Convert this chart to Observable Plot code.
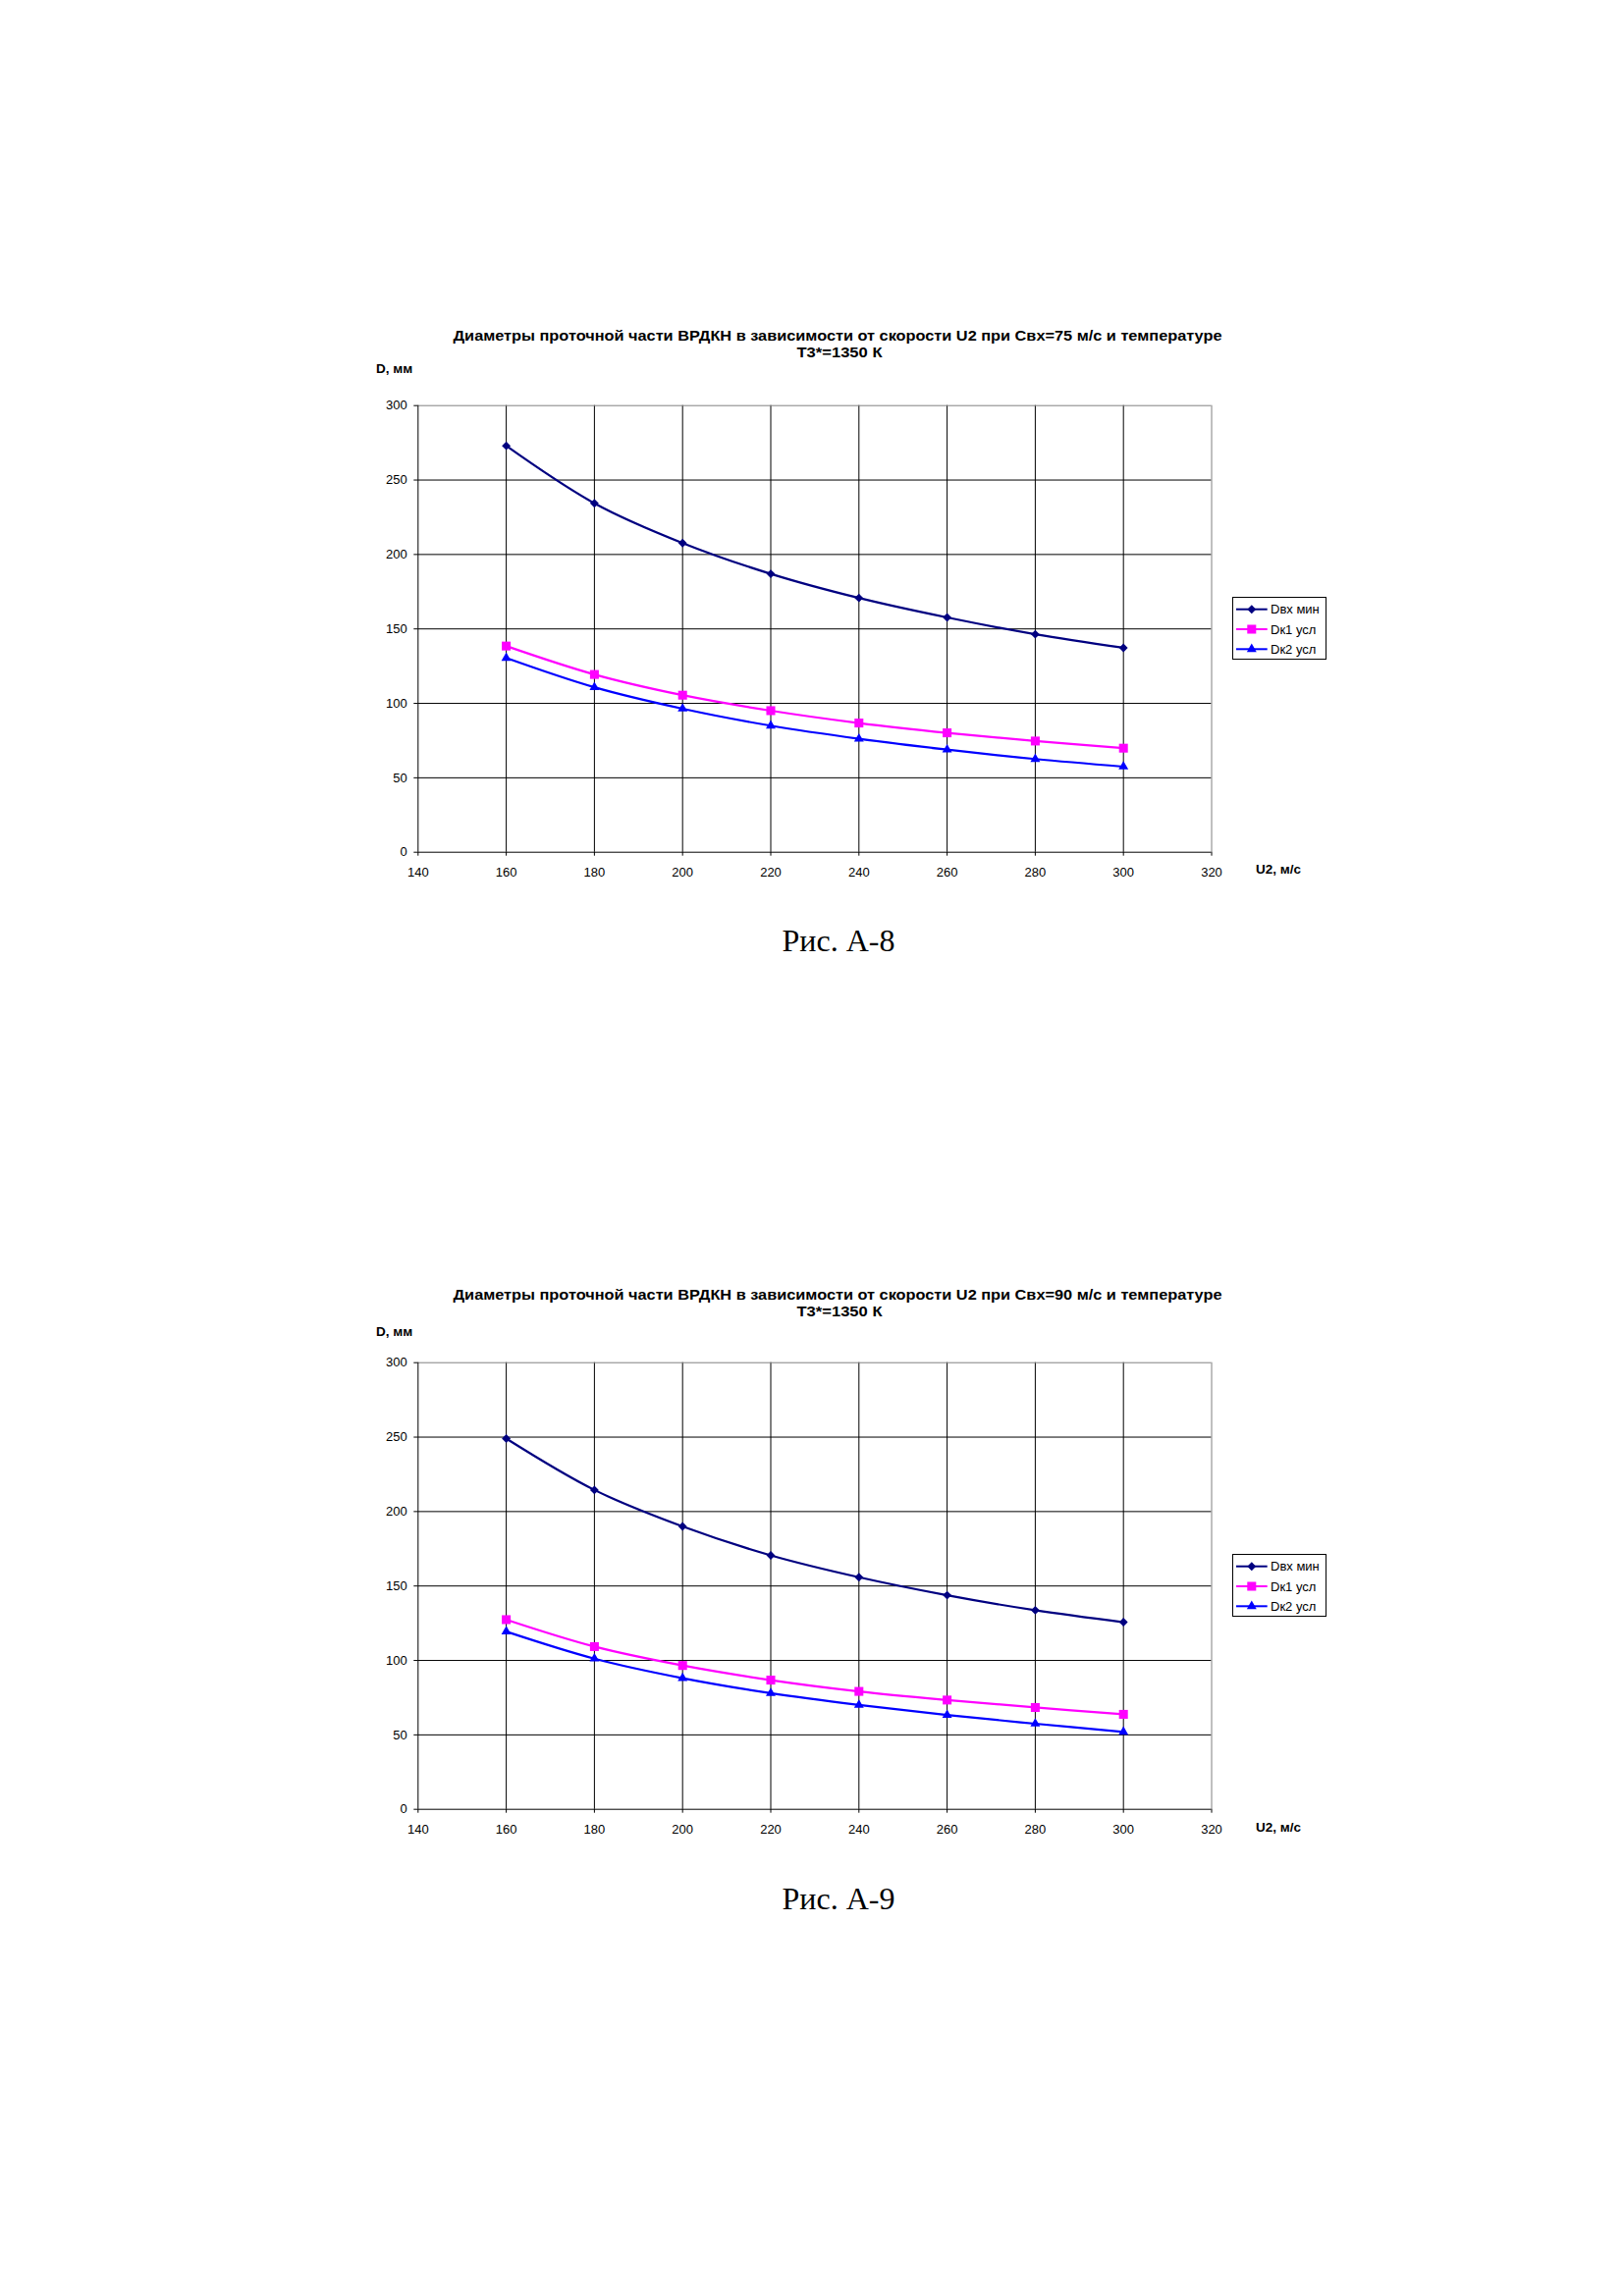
<!DOCTYPE html>
<html>
<head>
<meta charset="utf-8">
<script src="https://cdn.jsdelivr.net/npm/d3@7"></script>
<script src="https://cdn.jsdelivr.net/npm/@observablehq/plot@0.6"></script>
<style>
  html, body { margin: 0; padding: 0; background: #fff; }
  #page { position: relative; width: 1654px; height: 2339px; background: #fff; overflow: hidden; }
  .chart { position: absolute; }
  #overlay { position: absolute; left: 0; top: 0; pointer-events: none; }
</style>
</head>
<body>
<div id="page"></div>
<script>
// ---- data ----
const U2 = [160, 180, 200, 220, 240, 260, 280, 300];
const seriesNames = ["Dвх мин", "Dк1 усл", "Dк2 усл"];
const seriesColors = ["#000080", "#FF00FF", "#0000FF"];
const seriesSymbols = ["diamond2", "square", "triangle"];

// Chart A-8: Свх = 75 м/с
const dvxMin75 = [273, 234.4, 207.7, 187, 170.8, 157.7, 146.4, 137.3];
const dk1Usl75 = [138.5, 119.4, 105.5, 95.1, 86.8, 80.2, 74.7, 69.9];
const dk2Usl75 = [130.5, 110.8, 96.4, 85.0, 76.2, 68.9, 62.6, 57.5];

// Chart A-9: Свх = 90 м/с
const dvxMin90 = [249.0, 214.5, 190.0, 170.6, 155.9, 143.8, 133.7, 125.7];
const dk1Usl90 = [127.4, 109.3, 96.6, 86.8, 79.2, 73.4, 68.4, 63.8];
const dk2Usl90 = [119.4, 101.2, 88.1, 78.0, 70.1, 63.3, 57.5, 52.0];

const xTicks = [140, 160, 180, 200, 220, 240, 260, 280, 300, 320];
const yTicks = [0, 50, 100, 150, 200, 250, 300];

const titleLine1_75 = "Диаметры проточной части ВРДКН в зависимости от скорости U2 при Свх=75 м/с и температуре";
const titleLine1_90 = "Диаметры проточной части ВРДКН в зависимости от скорости U2 при Свх=90 м/с и температуре";
const titleLine2 = "Т3*=1350 К";
const yLabel = "D, мм";
const xLabel = "U2, м/с";
const captions = ["Рис. А-8", "Рис. А-9"];

const charts = [
  { off: 0, values: [dvxMin75, dk1Usl75, dk2Usl75], title: titleLine1_75, caption: captions[0], tOff: 0, yOff: 0, xOff: 0, cOff: 0 },
  { off: 975, values: [dvxMin90, dk1Usl90, dk2Usl90], title: titleLine1_90, caption: captions[1], tOff: 2, yOff: 6, xOff: 1, cOff: 1 }
];

const symbolR = [4.0, 5.1, 3.7];

const page = document.getElementById("page");

for (const c of charts) {
  const marks = [
    Plot.gridX(xTicks.slice(1, -1), { stroke: "#000", strokeOpacity: 1, strokeWidth: 1 }),
    Plot.gridY(yTicks.slice(1, -1), { stroke: "#000", strokeOpacity: 1, strokeWidth: 1 }),
    Plot.ruleY([300], { stroke: "#808080", strokeWidth: 1 }),
    Plot.ruleX([320], { stroke: "#808080", strokeWidth: 1 }),
    Plot.ruleX([140], { stroke: "#000", strokeWidth: 1 }),
    Plot.ruleY([0], { stroke: "#000", strokeWidth: 1 }),
    Plot.axisX(xTicks, { tickSize: 4, tickPadding: 12, label: null, fontSize: 13 }),
    Plot.axisY(yTicks, { tickSize: 4, tickPadding: 7, label: null, fontSize: 13 })
  ];
  c.values.forEach((vals, i) => {
    const rows = U2.map((u, j) => ({ u, d: vals[j] }));
    marks.push(Plot.line(rows, { x: "u", y: "d", stroke: seriesColors[i], strokeWidth: 2.2, curve: "catmull-rom" }));
    marks.push(Plot.dot(rows, { x: "u", y: "d", fill: seriesColors[i], stroke: "none", symbol: seriesSymbols[i], r: symbolR[i] }));
  });
  const svg = Plot.plot({
    width: 1000,
    height: 600,
    marginLeft: 55.3,
    marginRight: 136.5,
    marginTop: 92.7,
    marginBottom: 52.3,
    x: { domain: [140, 320] },
    y: { domain: [0, 300] },
    style: { fontFamily: "'Liberation Sans', Arial, sans-serif", fontSize: "13px", color: "#000", background: "transparent", overflow: "visible" },
    marks
  });
  const wrap = document.createElement("div");
  wrap.className = "chart";
  wrap.style.left = "370px";
  wrap.style.top = (320 + c.off) + "px";
  wrap.appendChild(svg);
  page.appendChild(wrap);
}

// ---- overlay: titles, axis labels, legends, captions ----
const ov = d3.select(page).append("svg")
  .attr("id", "overlay")
  .attr("width", 1654).attr("height", 2339)
  .style("font-family", "'Liberation Sans', Arial, sans-serif");

for (const c of charts) {
  const o = c.off;
  ov.append("text").attr("x", 853).attr("y", 346.5 + o + c.tOff)
    .attr("text-anchor", "middle").attr("font-size", 14).attr("font-weight", "bold")
    .attr("textLength", 783).attr("lengthAdjust", "spacingAndGlyphs")
    .text(c.title);
  ov.append("text").attr("x", 855).attr("y", 364 + o + c.tOff)
    .attr("text-anchor", "middle").attr("font-size", 14).attr("font-weight", "bold")
    .attr("textLength", 87).attr("lengthAdjust", "spacingAndGlyphs")
    .text(titleLine2);
  ov.append("text").attr("x", 383).attr("y", 380 + o + c.yOff)
    .attr("font-size", 13.5).attr("font-weight", "bold").text(yLabel);
  ov.append("text").attr("x", 1279).attr("y", 890 + o + c.xOff)
    .attr("font-size", 13.5).attr("font-weight", "bold").text(xLabel);
  const lg = ov.append("g");
  lg.append("rect").attr("x", 1255.5).attr("y", 608.5 + o).attr("width", 95).attr("height", 63)
    .attr("fill", "#fff").attr("stroke", "#000").attr("stroke-width", 1);
  seriesNames.forEach((name, i) => {
    const y = 620.7 + o + i * 20.3;
    lg.append("line").attr("x1", 1259).attr("x2", 1290.7).attr("y1", y).attr("y2", y)
      .attr("stroke", seriesColors[i]).attr("stroke-width", 2);
    const symType = [d3.symbolDiamond2, d3.symbolSquare, d3.symbolTriangle][i];
    lg.append("path").attr("transform", `translate(1274.8,${y})`)
      .attr("d", d3.symbol(symType, Math.PI * symbolR[i] * symbolR[i])())
      .attr("fill", seriesColors[i]);
    lg.append("text").attr("x", 1294).attr("y", y + 4.7).attr("font-size", 13).text(name);
  });
  ov.append("text").attr("x", 854).attr("y", 969 + o + c.cOff)
    .attr("text-anchor", "middle")
    .attr("font-family", "'Liberation Serif', 'Times New Roman', serif")
    .attr("font-size", 32).text(c.caption);
}
</script>
</body>
</html>
